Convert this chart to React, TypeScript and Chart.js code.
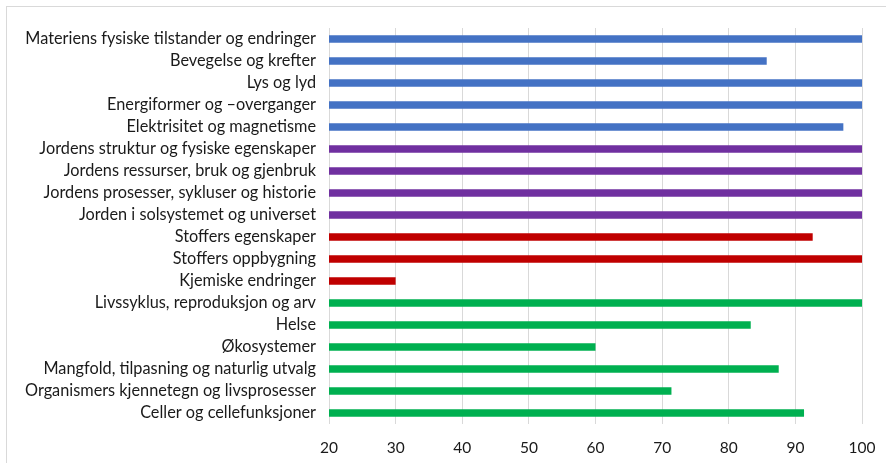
import React, { useEffect, useRef } from "react";
import { Chart, registerables } from "chart.js";

Chart.register(...registerables);

const categories = [
  "Materiens fysiske tilstander og endringer",
  "Bevegelse og krefter",
  "Lys og lyd",
  "Energiformer og –overganger",
  "Elektrisitet og magnetisme",
  "Jordens struktur og fysiske egenskaper",
  "Jordens ressurser, bruk og gjenbruk",
  "Jordens prosesser, sykluser og historie",
  "Jorden i solsystemet og universet",
  "Stoffers egenskaper",
  "Stoffers oppbygning",
  "Kjemiske endringer",
  "Livssyklus, reproduksjon og arv",
  "Helse",
  "Økosystemer",
  "Mangfold, tilpasning og naturlig utvalg",
  "Organismers kjennetegn og livsprosesser",
  "Celler og cellefunksjoner",
];

const values = [100, 85.7, 100, 100, 97.2, 100, 100, 100, 100, 92.6, 100, 30, 100, 83.3, 60, 87.5, 71.4, 91.3];

const groups = [
  "fysikk", "fysikk", "fysikk", "fysikk", "fysikk",
  "jord", "jord", "jord", "jord",
  "kjemi", "kjemi", "kjemi",
  "biologi", "biologi", "biologi", "biologi", "biologi", "biologi",
];

const xTicks = [20, 30, 40, 50, 60, 70, 80, 90, 100];

const groupColors: Record<string, string> = {
  fysikk: "#4472C4",
  jord: "#7030A0",
  kjemi: "#C00000",
  biologi: "#00B050",
};

const FONT = "Lato, 'Open Sans', sans-serif";

export default function App() {
  const ref = useRef<HTMLCanvasElement | null>(null);

  useEffect(() => {
    if (!ref.current) return;
    const framePlugin = {
      id: "frame",
      beforeDraw(chart: any) {
        const ctx = chart.ctx;
        ctx.save();
        ctx.fillStyle = "#ffffff";
        ctx.fillRect(0, 0, chart.width, chart.height);
        ctx.strokeStyle = "#d9d9d9";
        ctx.lineWidth = 1;
        ctx.strokeRect(6.5, 6.5, chart.width + 20, chart.height + 20);
        ctx.restore();
      },
    };
    const chart = new Chart(ref.current, {
      type: "bar",
      data: {
        labels: categories,
        datasets: [
          {
            data: values,
            backgroundColor: groups.map((g) => groupColors[g]),
            categoryPercentage: 1,
            barPercentage: 0.35,
          },
        ],
      },
      options: {
        indexAxis: "y",
        animation: false,
        responsive: false,
        layout: { padding: { left: 0, right: 24, top: 28, bottom: 0 } },
        plugins: { legend: { display: false }, tooltip: { enabled: false } },
        scales: {
          x: {
            min: 20,
            max: 100,
            afterBuildTicks: (scale: any) => {
              scale.ticks = xTicks.map((v) => ({ value: v }));
            },
            afterFit: (scale: any) => {
              scale.height = 39;
              scale.paddingLeft = 0;
              scale.paddingRight = 0;
            },
            grid: { color: "#d9d9d9", drawTicks: false, lineWidth: 1 },
            border: { display: false },
            ticks: {
              padding: 15,
              color: "#1a1a1a",
              font: { family: FONT, size: 15.5 },
              maxRotation: 0,
            },
          },
          y: {
            afterFit: (scale: any) => {
              scale.width = 329;
            },
            grid: { display: false, drawTicks: false },
            border: { display: false },
            ticks: {
              padding: 13,
              color: "#1a1a1a",
              font: { family: FONT, size: 16.3 },
              autoSkip: false,
            },
          },
        },
      },
      plugins: [framePlugin],
    });
    return () => chart.destroy();
  }, []);

  return (
    <div style={{ position: "absolute", left: 0, top: 0, width: 886, height: 463 }}>
      <canvas ref={ref} width={886} height={463} style={{ display: "block" }} />
    </div>
  );
}
